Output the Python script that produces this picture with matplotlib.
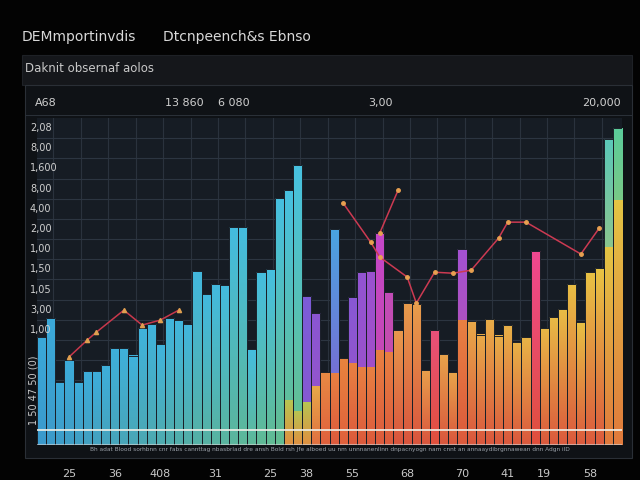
import matplotlib
matplotlib.use('Agg')
import matplotlib.pyplot as plt
import numpy as np
from matplotlib.colors import LinearSegmentedColormap
from matplotlib.patches import Rectangle

# back (tall) bars, one value per bar
back_vals = [5.35, 6.29, 3.12, 4.21, 3.12, 3.66, 3.66, 3.96, 4.80, 4.80,
             4.41, 5.79, 5.99, 5.00, 6.29, 6.19, 5.99, 8.61, 7.48, 7.97,
             7.92, 10.79, 10.79, 4.75, 8.56, 8.71, 12.23, 12.62, 13.86, 7.38,
             6.53, 3.61, 10.69, 4.31, 7.33, 8.56, 8.61, 10.50, 7.57, 5.69,
             7.03, 6.98, 3.71, 5.69, 4.50, 3.61, 9.70, 6.14, 5.45, 6.24,
             5.40, 5.94, 5.10, 5.35, 9.60, 5.79, 6.34, 6.73, 7.97, 6.09,
             8.56, 8.76, 15.15, 15.69]
# front (warm) bars drawn over some of the back bars
front_idx = [27, 28, 29, 30, 32, 34, 35, 36, 37, 38, 46, 62, 63]
front_vals = [2.18, 1.68, 2.13, 2.92, 3.56, 4.06, 3.86, 3.86, 4.70, 4.60, 6.19, 9.80, 12.13]

# trend line pieces
line1_x = [3, 5, 6, 9, 11, 13, 15]
line1_y = [4.36, 5.20, 5.59, 6.68, 5.94, 6.19, 6.68]
line2_x = [33, 36, 37, 40, 41, 43, 45, 47, 50, 51, 53, 59, 61]
line2_y = [11.98, 10.05, 9.31, 8.32, 7.03, 8.56, 8.51, 8.66, 10.25, 11.04, 11.04, 9.46, 10.74]
line3_x = [37, 39]
line3_y = [10.50, 12.62]

ytick_labels = ['2,08', '8,00', '1,600', '8,00', '4,00', '2,00', '1,00', '1,50', '1,05', '3,00', '1,00']
xtick_pos = [3, 8, 13, 19, 25, 29, 34, 40, 46, 51, 55, 60]
xtick_labels = ['25', '36', '408', '31', '25', '38', '55', '68', '70', '41', '19', '58']
top_labels = ['A68', '13 860', '6 080', '3,00', '20,000']

# colours (top, bottom) for each back bar
def back_colors(i):
    special = {29: ('#7c5cd8', '#8a58d0'), 30: ('#8a56d2', '#9a54c8'),
               31: ('#e88a44', '#e0603c'), 32: ('#4aa4e0', '#8a58d0'),
               33: ('#e8843e', '#e0603c'), 34: ('#8858d4', '#9a52c8'),
               35: ('#9254d2', '#a050c8'), 36: ('#9a52d0', '#a84cc4'),
               37: ('#c446c8', '#c84aa8'), 38: ('#c24cb8', '#c8509c'),
               43: ('#e8507a', '#e0503c'), 46: ('#a452d2', '#c050a0'),
               54: ('#f04890', '#e0503c'), 62: ('#5cc8b8', '#e0c040'),
               63: ('#5ccc9a', '#e0c040')}
    if i in special:
        return special[i]
    if i <= 28:
        t = i / 28
        top = np.array([0.23, 0.66, 0.85]) * (1 - t) + np.array([0.28, 0.76, 0.88]) * t
        bot = np.array([0.23, 0.60, 0.80]) * (1 - t) + np.array([0.40, 0.75, 0.55]) * t
        return tuple(top), tuple(bot)
    t = (i - 39) / 24
    top = np.array([0.91, 0.60, 0.30]) * (1 - t) + np.array([0.91, 0.78, 0.26]) * t
    bot = np.array([0.85, 0.33, 0.24]) * (1 - t) + np.array([0.86, 0.36, 0.24]) * t
    return tuple(top), tuple(bot)

def front_colors(i):
    if i in (27, 28, 29):
        return ('#b8c452', '#e09040')
    if i == 30:
        return ('#e8a848', '#e07040')
    if i in (62, 63):
        return ('#e4c444', '#e07a3c')
    return ('#e88042', '#dc5a3c')

fig = plt.figure(figsize=(6.4, 4.8), dpi=100, facecolor='#030303')

def fx(px):
    return px / 640

def fy(py):
    return 1 - py / 480

# header band and panel (drawn behind the axes)
fig.patches.append(Rectangle((fx(22), fy(85)), fx(610), 30 / 480, transform=fig.transFigure,
                             facecolor='#15171b', edgecolor='#1e2126', lw=0.8, zorder=-2))
fig.patches.append(Rectangle((fx(25), fy(458)), fx(607), 373 / 480, transform=fig.transFigure,
                             facecolor='#0f1216', edgecolor='#2a2f36', lw=0.8, zorder=-2))
fig.patches.append(Rectangle((fx(25), fy(116)), fx(607), 1 / 480, transform=fig.transFigure,
                             facecolor='#2a3038', edgecolor='none', zorder=-1))

fig.text(fx(22), fy(37), 'DEMmportinvdis', color='#d8d8d8', fontsize=10, va='center')
fig.text(fx(163), fy(37), 'Dtcnpeench&s Ebnso', color='#d8d8d8', fontsize=10, va='center')
fig.text(fx(25), fy(69), 'Daknit obsernaf aolos', color='#c8c8c8', fontsize=8.5, va='center')

for lab, px in zip(top_labels, [35, 165, 218, 368, 582]):
    fig.text(fx(px), fy(103), lab, color='#d0d0d0', fontsize=8, va='center')

ax = fig.add_axes([fx(37), fy(445), fx(585), 327 / 480])
ax.set_zorder(2)
bg = '#161c24'
ax.set_facecolor(bg)
for s in ax.spines.values():
    s.set_visible(False)

x = np.arange(len(back_vals))
ymax = 16.2

bars = ax.bar(x, back_vals, width=1.0, color='none', zorder=2)
fbars = ax.bar(front_idx, front_vals, width=1.0, color='none', zorder=3)

grad = np.linspace(0, 1, 64).reshape(-1, 1)
for i, b in enumerate(bars):
    top, bot = back_colors(i)
    cm = LinearSegmentedColormap.from_list('b', [bot, top])
    ax.imshow(grad, extent=[b.get_x(), b.get_x() + b.get_width(), 0, b.get_height()],
              origin='lower', aspect='auto', cmap=cm, zorder=2, interpolation='bilinear')
for i, b in zip(front_idx, fbars):
    top, bot = front_colors(i)
    cm = LinearSegmentedColormap.from_list('f', [bot, top])
    ax.imshow(grad, extent=[b.get_x(), b.get_x() + b.get_width(), 0, b.get_height()],
              origin='lower', aspect='auto', cmap=cm, zorder=3, interpolation='bilinear')

# thin dark gaps between bars
ax.bar(x, back_vals, width=1.0, facecolor='none', edgecolor='#1a2028', lw=0.7, zorder=4)

ax.plot(line1_x, line1_y, color='#c8384c', lw=1.1, marker='^', ms=3,
        mfc='#e0a050', mec='#e0a050', zorder=5)
ax.plot(line2_x, line2_y, color='#cc3a52', lw=1.1, marker='o', ms=2.5,
        mfc='#e8a050', mec='#e8a050', zorder=5)
ax.plot(line3_x, line3_y, color='#cc3a52', lw=1.1, marker='o', ms=2.5,
        mfc='#e8a050', mec='#e8a050', zorder=5)

ax.axhline(0.74, color='#f0f0e8', lw=1.2, zorder=6)
ax.axhline(0.05, color='#d8d8d8', lw=0.8, alpha=0.6, zorder=6)

ax.set_xlim(-0.5, len(back_vals) - 0.5)
ax.set_ylim(0, ymax)

grid_y = np.arange(15.2, 0, -1.0)
ax.set_yticks(grid_y)
ax.set_xticks(np.arange(1.3, 63, 3), minor=True)
ax.set_xticks(xtick_pos)
ax.set_xticklabels(xtick_labels, color='#c8c8c8', fontsize=8)
ax.set_yticklabels([])
ax.tick_params(axis='both', which='both', length=0, pad=17)
ax.grid(True, axis='y', color='#2c3541', lw=0.8, zorder=1)
ax.grid(True, axis='x', which='minor', color='#2a323d', lw=0.8, zorder=1)
ax.set_axisbelow(True)

for lab, gy in zip(ytick_labels, grid_y):
    ax.text(-0.012, gy + 0.5, lab, transform=ax.get_yaxis_transform(), color='#d0d0d0',
            fontsize=7, va='center', ha='left', zorder=7)

fig.text(fx(34), fy(390), '1 50 47 50 (0)', color='#c8c8c8', fontsize=7,
         rotation=90, va='center', ha='center', zorder=5)
fig.text(fx(330), fy(450), 'Bh adat Blood sorhbnn cnr fabs cannttag nbasbrlad dre ansh Bold rsh Jfe'
         ' alboed uu nm unnnanenlinn dnpacnyogn nam cnnt an annaaydibrgnnawean dnn Adgn ilD',
         color='#9aa0a8', fontsize=4.2, ha='center', va='center')

fig.savefig('out.png', dpi=100, facecolor=fig.get_facecolor())
